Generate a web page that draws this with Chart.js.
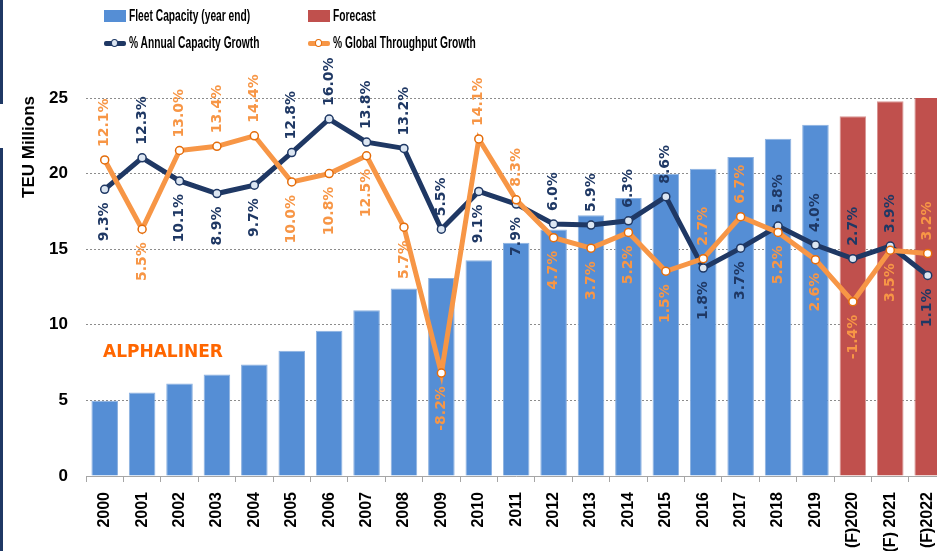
<!DOCTYPE html>
<html>
<head>
<meta charset="utf-8">
<title>Fleet capacity and growth</title>
<script src="https://cdn.jsdelivr.net/npm/chart.js@4.4.1/dist/chart.umd.min.js"></script>
<style>
  html, body { margin: 0; padding: 0; background: #fff; }
  #wrap { position: relative; width: 937px; height: 551px; overflow: hidden; }
  #chart { position: absolute; left: 0; top: 0; }
  .edge { position: absolute; left: 0; width: 3px; background: #1F3864; }
  #legend {
    position: absolute; left: 104px; top: 5px;
    display: grid; grid-template-columns: 204px auto; row-gap: 5px;
    font: bold 16px "Liberation Sans", sans-serif;
    color: #000;
  }
  .item { display: flex; align-items: center; height: 22px; white-space: nowrap; }
  /* the source font is a narrow one, squeeze the text to match */
  .item .txt { display: inline-block; transform: scaleX(0.64); transform-origin: 0 50%; }
  .box { flex: none; width: 22px; height: 12px; margin-right: 3px; }
  .lineMark { flex: none; position: relative; width: 22px; height: 5px; margin-right: 3px; border-radius: 2px; }
  .lineMark i { position: absolute; left: 7px; top: -2px; width: 5px; height: 6px; border: 1.5px solid; border-radius: 50%; }
</style>
</head>
<body>
<div id="wrap">
  <div class="edge" style="top:0;height:104px"></div>
  <div class="edge" style="top:148px;height:403px"></div>
  <canvas id="chart" width="957" height="551"></canvas>
  <div id="legend"></div>
</div>
<script>
// categories
const years = ['2000', '2001', '2002', '2003', '2004', '2005', '2006', '2007', '2008', '2009',
  '2010', '2011', '2012', '2013', '2014', '2015', '2016', '2017', '2018', '2019',
  '(F)2020', '(F) 2021', '(F)2022'];

// TEU millions
const fleetCapacity = [4.97, 5.53, 6.12, 6.72, 7.38, 8.28, 9.6, 10.96, 12.4, 13.1,
  14.27, 15.43, 16.31, 17.24, 18.38, 19.99, 20.32, 21.09, 22.3, 23.23, null, null, null];
const forecast = [null, null, null, null, null, null, null, null, null, null,
  null, null, null, null, null, null, null, null, null, null, 23.8, 24.79, 25.1];

// growth in %
const capacityGrowth = [9.3, 12.3, 10.1, 8.9, 9.7, 12.8, 16.0, 13.8, 13.2, 5.5,
  9.1, 7.9, 6.0, 5.9, 6.3, 8.6, 1.8, 3.7, 5.8, 4.0, 2.7, 3.9, 1.1];
const throughputGrowth = [12.1, 5.5, 13.0, 13.4, 14.4, 10.0, 10.8, 12.5, 5.7, -8.2,
  14.1, 8.3, 4.7, 3.7, 5.2, 1.5, 2.7, 6.7, 5.2, 2.6, -1.4, 3.5, 3.2];

// where each value label sits: a = above the point, b = below
const capacityLabelSide = ['b', 'a', 'b', 'b', 'b', 'a', 'a', 'a', 'a', 'a',
  'b', 'b', 'a', 'a', 'a', 'a', 'b', 'b', 'a', 'a', 'a', 'a', 'b'];
const throughputLabelSide = ['a', 'b', 'a', 'a', 'a', 'b', 'b', 'b', 'b', 'b',
  'a', 'a', 'b', 'b', 'b', 'b', 'a', 'a', 'b', 'b', 'b', 'b', 'a'];

const yTitle = 'TEU Millions';
const brand = 'ALPHALINER';

const NAVY = '#1F3864';
const ORANGE = '#F79646';

// rotated % labels next to each line point
const pointLabels = {
  id: 'pointLabels',
  afterDatasetsDraw(chart) {
    const ctx = chart.ctx;
    chart.data.datasets.forEach((ds, i) => {
      if (!ds.labelSide) return;
      const meta = chart.getDatasetMeta(i);
      ctx.save();
      ctx.font = 'bold 14px "DejaVu Sans"';
      ctx.fillStyle = ds.labelColor;
      ctx.textBaseline = 'middle';
      meta.data.forEach((pt, j) => {
        const above = ds.labelSide[j] === 'a';
        ctx.save();
        ctx.translate(pt.x, pt.y);
        ctx.rotate(-Math.PI / 2);
        ctx.textAlign = above ? 'left' : 'right';
        ctx.fillText(ds.data[j].toFixed(1) + '%', above ? 13 : -13, 0);
        ctx.restore();
      });
      ctx.restore();
    });
  }
};

// axis title sits high up on the left, plus the watermark text
const extraText = {
  id: 'extraText',
  afterDraw(chart) {
    const ctx = chart.ctx;
    ctx.save();
    ctx.font = 'bold 17px "Liberation Sans"';
    ctx.fillStyle = '#000';
    ctx.textAlign = 'center';
    ctx.textBaseline = 'middle';
    ctx.translate(29, 147);
    ctx.rotate(-Math.PI / 2);
    ctx.fillText(yTitle, 0, 0);
    ctx.restore();

    ctx.save();
    ctx.font = 'bold 17px "DejaVu Sans"';
    ctx.fillStyle = '#FF6600';
    ctx.textAlign = 'left';
    ctx.textBaseline = 'middle';
    ctx.fillText(brand, 103, 353);
    ctx.restore();
  }
};

const ctx = document.getElementById('chart').getContext('2d');
const chart = new Chart(ctx, {
  data: {
    labels: years,
    datasets: [
      {
        type: 'bar', label: 'Fleet Capacity (year end)', data: fleetCapacity,
        backgroundColor: '#558ED5', borderColor: '#8CB1E0', borderWidth: 1,
        yAxisID: 'y', order: 3, grouped: false,
        barPercentage: 0.71, categoryPercentage: 1
      },
      {
        type: 'bar', label: 'Forecast', data: forecast,
        backgroundColor: '#C0504D', borderColor: '#D89593', borderWidth: 1,
        yAxisID: 'y', order: 3, grouped: false,
        barPercentage: 0.71, categoryPercentage: 1
      },
      {
        type: 'line', label: '% Annual Capacity Growth', data: capacityGrowth,
        borderColor: NAVY, borderWidth: 5, tension: 0,
        pointRadius: 4, pointBorderWidth: 1.5,
        pointBackgroundColor: '#DCE6F2', pointBorderColor: NAVY,
        yAxisID: 'y2', order: 2,
        labelSide: capacityLabelSide, labelColor: NAVY
      },
      {
        type: 'line', label: '% Global Throughput Growth', data: throughputGrowth,
        borderColor: ORANGE, borderWidth: 5, tension: 0,
        pointRadius: 4, pointBorderWidth: 1.5,
        pointBackgroundColor: '#FFFFFF', pointBorderColor: '#E46C0A',
        yAxisID: 'y2', order: 1,
        labelSide: throughputLabelSide, labelColor: ORANGE
      }
    ]
  },
  options: {
    responsive: false,
    animation: false,
    devicePixelRatio: 1,
    layout: { padding: { top: 98, left: 0, right: 0, bottom: 0 } },
    plugins: {
      legend: { display: false },
      tooltip: { enabled: false }
    },
    scales: {
      x: {
        offset: true,
        grid: { display: true, drawOnChartArea: false, drawTicks: true, tickLength: 6, color: '#A6A6A6', offset: true },
        border: { display: true, color: '#A6A6A6', width: 1 },
        ticks: {
          minRotation: 90, maxRotation: 90, padding: 10, autoSkip: false,
          color: '#000', font: { family: 'Liberation Sans', weight: 'bold', size: 16 }
        },
        afterFit(scale) { scale.height = 75; }
      },
      y: {
        min: 0, max: 25,
        ticks: {
          stepSize: 5, padding: 18, color: '#000',
          font: { family: 'Liberation Sans', weight: 'bold', size: 17 }
        },
        grid: {
          drawTicks: false, lineWidth: 1,
          color: c => c.tick.value === 0 ? 'rgba(0,0,0,0)' : '#8C8C8C'
        },
        border: { display: false, dash: [2, 2] },
        afterFit(scale) { scale.width = 86; }
      },
      y2: {
        display: false, min: -18, max: 18
      }
    }
  },
  plugins: [pointLabels, extraText]
});

// html legend built from the datasets, two columns like the original
const legend = document.getElementById('legend');
chart.data.datasets.forEach(ds => {
  const item = document.createElement('div');
  item.className = 'item';
  const mark = document.createElement('span');
  if (ds.type === 'bar') {
    mark.className = 'box';
    mark.style.background = ds.backgroundColor;
  } else {
    mark.className = 'lineMark';
    mark.style.background = ds.borderColor;
    const dot = document.createElement('i');
    dot.style.borderColor = ds.pointBorderColor;
    dot.style.background = ds.pointBackgroundColor;
    mark.appendChild(dot);
  }
  const txt = document.createElement('span');
  txt.className = 'txt';
  txt.textContent = ds.label;
  item.appendChild(mark);
  item.appendChild(txt);
  legend.appendChild(item);
});
</script>
</body>
</html>
